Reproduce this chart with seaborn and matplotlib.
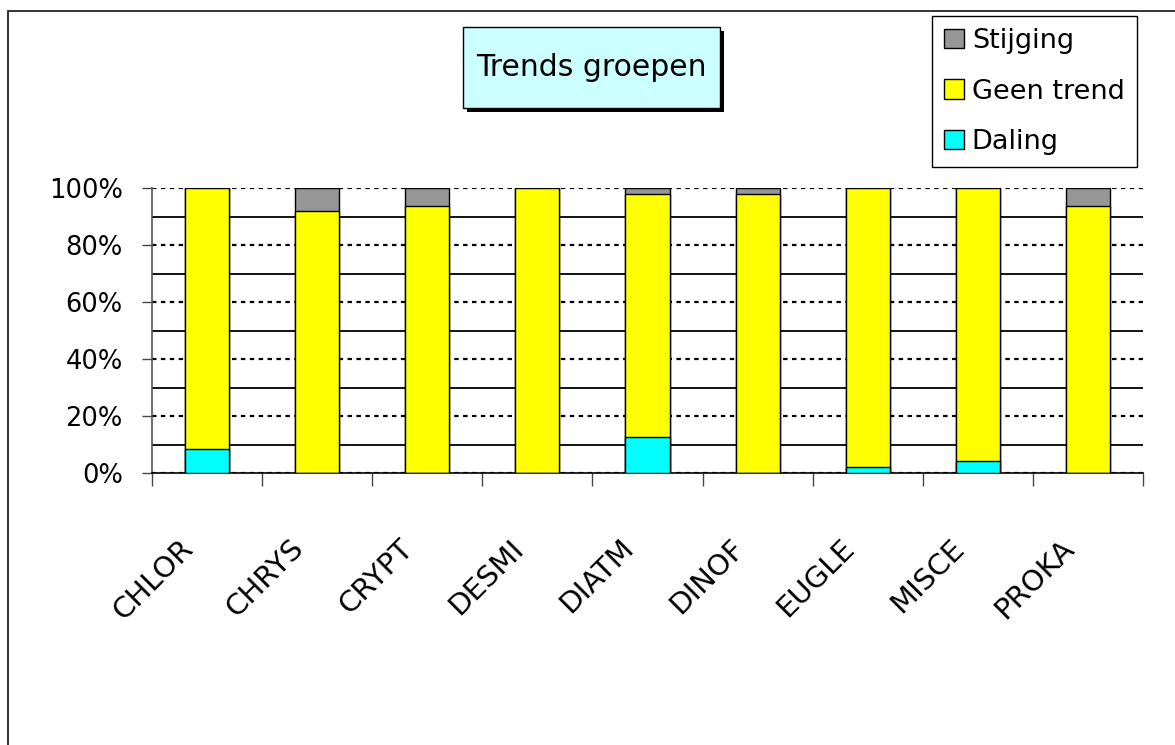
import matplotlib
matplotlib.use("Agg")
import matplotlib.pyplot as plt
import matplotlib.transforms as mtransforms
from matplotlib.patches import Patch, Rectangle
from matplotlib.ticker import MultipleLocator, FuncFormatter
import numpy as np
import pandas as pd
import seaborn as sns

# Share of species per phytoplankton group with a decreasing, no, or increasing trend (%)
groups = ["CHLOR", "CHRYS", "CRYPT", "DESMI", "DIATM", "DINOF", "EUGLE", "MISCE", "PROKA"]
daling = [8.4, 0.0, 0.0, 0.0, 12.6, 0.0, 2.1, 4.2, 0.0]
geen_trend = [91.6, 91.8, 93.6, 100.0, 85.3, 97.9, 97.9, 95.8, 93.6]
stijging = [0.0, 8.2, 6.4, 0.0, 2.1, 2.1, 0.0, 0.0, 6.4]

series_labels = ["Stijging", "Geen trend", "Daling"]
series_colors = {"Stijging": "#969696", "Geen trend": "#FFFF00", "Daling": "#00FFFF"}

sns.set_style("white")
plt.rcParams["font.family"] = ["DejaVu Sans"]
plt.rcParams["text.color"] = "black"
plt.rcParams["xtick.color"] = "black"
plt.rcParams["ytick.color"] = "black"
plt.rcParams["xtick.labelcolor"] = "black"
plt.rcParams["ytick.labelcolor"] = "black"

df = pd.DataFrame({"groep": groups, "Daling": daling,
                   "Geen trend": geen_trend, "Stijging": stijging})
# cumulative tops of the stacked segments
df["top_daling"] = df["Daling"]
df["top_geen"] = df["Daling"] + df["Geen trend"]
df["top_stijging"] = df["top_geen"] + df["Stijging"]

W, H = 1175, 745
fig = plt.figure(figsize=(W / 100, H / 100), dpi=100)
fig.patch.set_facecolor("white")

# outer frame of the chart object
fig.add_artist(Rectangle((8 / W, -0.05), 1.1, 1 - 11 / H + 0.05, transform=fig.transFigure,
                         fill=False, edgecolor="#222222", linewidth=1.3, clip_on=False))

ax = fig.add_axes([152 / W, 1 - 473 / H, (1143 - 152) / W, (473 - 188) / H])
ax.set_facecolor("white")

# draw from the tallest stack down so each segment overlays the one above
for col, name in [("top_stijging", "Stijging"), ("top_geen", "Geen trend"), ("top_daling", "Daling")]:
    sns.barplot(data=df, x="groep", y=col, color=series_colors[name], saturation=1,
                width=0.4, edgecolor="black", linewidth=1.0, ax=ax, zorder=3)

ax.set_ylim(0, 100)
ax.set_xlim(-0.5, len(groups) - 0.5)
ax.set_xlabel("")
ax.set_ylabel("")

ax.yaxis.set_major_locator(MultipleLocator(20))
ax.yaxis.set_minor_locator(MultipleLocator(10))
ax.yaxis.set_major_formatter(FuncFormatter(lambda v, p: f"{v:.0f}%"))
ax.set_axisbelow(True)
ax.yaxis.grid(True, which="major", color="black", linestyle=(0, (2, 2)), linewidth=1.6, zorder=0)
ax.yaxis.grid(True, which="minor", color="black", linestyle="-", linewidth=1.3, zorder=0)
ax.xaxis.grid(False)
glines = ax.yaxis.get_gridlines()
if len(glines):
    glines[-1].set_color("#808080")

ax.tick_params(axis="y", which="major", direction="out", length=7, width=1,
               color="#444444", labelsize=18.5, labelcolor="black", pad=14, left=True)
ax.tick_params(axis="y", which="minor", length=0)

ax.set_xticks(np.arange(len(groups)))
ax.set_xticks(np.arange(len(groups) + 1) - 0.5, minor=True)
ax.tick_params(axis="x", which="major", length=0, pad=44, labelcolor="black")
ax.tick_params(axis="x", which="minor", direction="out", length=9, width=1,
               color="#444444", bottom=True)
ax.set_xticklabels(groups, fontsize=21)
offset = mtransforms.ScaledTranslation(-0.28, 0, fig.dpi_scale_trans)
for lbl in ax.get_xticklabels():
    lbl.set_rotation(45)
    lbl.set_ha("right")
    lbl.set_va("top")
    lbl.set_rotation_mode("anchor")
    lbl.set_transform(lbl.get_transform() + offset)

for side in ["top", "right"]:
    ax.spines[side].set_visible(False)
ax.spines["left"].set_color("#555555")
ax.spines["left"].set_linewidth(1.2)
ax.spines["bottom"].set_color("black")
ax.spines["bottom"].set_linewidth(1.2)

# title box with drop shadow
bx0, by0, bx1, by1 = 463, 27, 720, 108
sh = 4
fig.add_artist(Rectangle((bx0 / W + sh / W, 1 - (by1 + sh) / H), (bx1 - bx0) / W, (by1 - by0) / H,
                         transform=fig.transFigure, facecolor="black", edgecolor="none"))
fig.add_artist(Rectangle((bx0 / W, 1 - by1 / H), (bx1 - bx0) / W, (by1 - by0) / H,
                         transform=fig.transFigure, facecolor="#CCFFFF", edgecolor="black",
                         linewidth=1.0))
fig.text((bx0 + bx1) / 2 / W, 1 - (by0 + by1) / 2 / H, "Trends groepen", fontsize=21.5,
         ha="center", va="center", color="black")

handles = [Patch(facecolor=series_colors[s], edgecolor="black", linewidth=1.0) for s in series_labels]
leg = fig.legend(handles, series_labels, loc="upper left", bbox_to_anchor=(932 / W, 1 - 16 / H),
                 fontsize=19.5, frameon=True, fancybox=False, framealpha=1, edgecolor="black",
                 handlelength=0.72, handleheight=0.72, handletextpad=0.3, labelspacing=0.9,
                 borderpad=0.45, borderaxespad=0, labelcolor="black")
leg.get_frame().set_linewidth(1.0)

fig.savefig("out.png", dpi=100, facecolor="white")
